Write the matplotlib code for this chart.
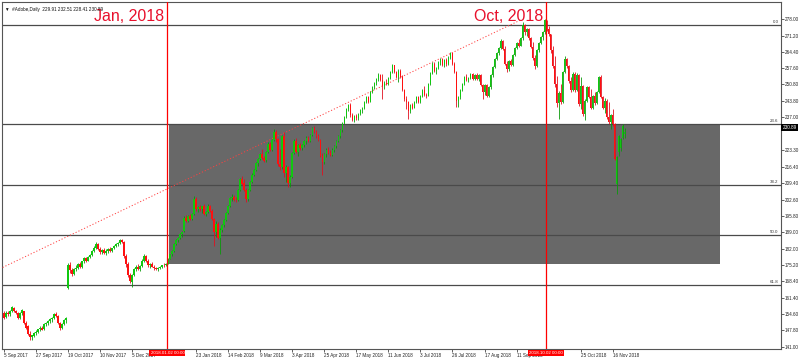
import numpy as np
import matplotlib
matplotlib.use("Agg")
import matplotlib.pyplot as plt
from matplotlib.patches import Rectangle
from matplotlib import transforms

plt.rcParams['font.family'] = ['Liberation Sans Narrow', 'Liberation Sans', 'DejaVu Sans']

# ---------------- data ----------------
symbol_caption = "\u25BC  #Adobe,Daily  229.91 232.51 228.41 230.89"
first_bar_date = "2017-09-05"
market_holidays = ["2017-11-23", "2017-12-25", "2018-01-01", "2018-01-15", "2018-02-19",
                   "2018-03-30", "2018-05-28", "2018-07-04", "2018-09-03", "2018-11-22",
                   "2018-12-25", "2019-01-01", "2019-01-21"]

opens = [
    155.3, 153.5, 155.0, 154.5, 155.8, 157.2, 156.0, 155.0, 153.2, 155.0,
    155.8, 151.0, 149.5, 146.5, 145.0, 145.6, 146.8, 147.2, 148.3, 149.0,
    148.5, 150.5, 150.8, 151.6, 152.5, 153.2, 154.5, 154.0, 151.0, 149.0,
    150.5, 152.0, 165.5, 175.0, 173.0, 171.5, 173.5, 174.0, 175.5, 174.5,
    176.8, 178.0, 177.0, 178.5, 179.5, 181.0, 182.5, 184.0, 182.0, 180.5,
    181.5, 180.3, 181.0, 182.0, 181.0, 182.2, 183.2, 184.0, 184.6, 185.6,
    185.0, 179.0, 175.5, 171.0, 168.0, 171.0, 173.5, 174.5, 173.5, 174.8,
    177.0, 179.0, 177.0, 175.0, 175.5, 174.5, 173.8, 173.4, 174.0, 174.4,
    175.2, 175.0, 175.8, 177.8, 179.6, 181.0, 184.0, 185.5, 186.5, 188.0,
    189.5, 195.0, 193.5, 195.5, 194.6, 196.5, 203.0, 198.5, 199.5, 198.5,
    199.8, 196.5, 197.5, 200.0, 198.0, 194.5, 189.0, 192.5, 186.5, 190.0,
    192.0, 194.0, 197.0, 200.0, 203.3, 203.8, 202.5, 202.2, 206.5, 211.0,
    209.5, 206.5, 203.0, 206.5, 210.0, 213.0, 215.0, 218.0, 219.5, 221.5,
    220.0, 219.0, 222.5, 226.0, 223.5, 227.5, 231.0, 228.0, 217.5, 216.0,
    229.0, 213.5, 216.0, 209.5, 212.0, 222.0, 227.0, 222.5, 225.5, 224.0,
    225.5, 227.0, 228.5, 227.0, 229.5, 232.5, 231.0, 229.0, 227.5, 221.0,
    218.3, 221.5, 223.5, 222.0, 221.2, 223.5, 225.0, 227.0, 229.0, 231.5,
    234.5, 237.0, 240.5, 242.0, 238.0, 236.0, 237.5, 236.5, 238.5, 240.0,
    241.0, 243.5, 245.5, 243.5, 247.5, 249.8, 251.5, 253.0, 254.5, 252.5,
    250.0, 251.5, 251.0, 253.5, 256.0, 258.8, 256.0, 254.0, 256.5, 254.0,
    248.5, 244.5, 243.5, 239.8, 242.0, 241.0, 243.5, 245.5, 243.5, 246.0,
    248.5, 246.5, 246.0, 251.0, 255.5, 259.5, 256.5, 257.5, 260.0, 261.5,
    259.0, 261.0, 259.5, 262.0, 263.8, 259.5, 256.0, 244.0, 245.5, 248.5,
    251.0, 254.0, 252.5, 253.5, 255.0, 253.0, 254.5, 253.0, 254.5, 250.5,
    247.5, 250.5, 246.0, 249.5, 254.5, 258.0, 261.5, 264.0, 266.0, 269.0,
    265.5, 259.5, 257.0, 260.5, 259.0, 263.0, 266.0, 268.0, 267.0, 270.0,
    275.5, 272.5, 274.0, 270.0, 266.5, 262.0, 258.5, 265.0, 268.0, 270.5,
    272.5, 277.5, 274.0, 271.8, 265.0, 258.5, 251.0, 243.0, 247.0, 243.5,
    256.0, 261.5, 258.5, 252.0, 248.5, 255.0, 248.5, 254.5, 242.5, 250.0,
    238.5, 244.0, 249.5, 245.6, 241.0, 246.0, 243.0, 247.5, 254.0, 245.6,
    241.0, 244.0, 237.0, 235.0, 238.0, 234.0, 209.0, 222.5, 224.0, 228.5,
    229.91]

highs = [
    156.0, 155.8, 156.0, 156.2, 158.0, 157.6, 156.5, 155.5, 155.5, 156.6,
    156.0, 151.8, 150.2, 147.5, 146.0, 147.0, 148.0, 148.6, 149.5, 149.6,
    150.8, 151.3, 152.0, 153.0, 153.5, 155.0, 155.5, 154.4, 151.5, 151.0,
    152.5, 153.5, 176.0, 176.5, 174.0, 173.8, 175.0, 176.0, 176.5, 177.0,
    178.5, 178.6, 178.8, 180.0, 181.5, 183.0, 184.7, 184.5, 182.8, 182.0,
    182.5, 181.8, 182.3, 182.6, 182.5, 183.5, 184.5, 185.0, 186.0, 186.2,
    185.3, 180.0, 176.5, 172.0, 171.5, 174.0, 175.0, 175.5, 175.0, 177.5,
    179.6, 179.5, 177.5, 176.0, 176.3, 175.0, 174.5, 174.2, 174.8, 175.4,
    176.0, 176.2, 178.0, 180.0, 181.5, 184.6, 186.0, 187.0, 188.5, 189.5,
    195.5, 196.0, 196.0, 196.4, 196.8, 204.0, 203.5, 200.0, 200.5, 200.0,
    200.8, 198.0, 200.6, 200.5, 198.5, 195.0, 193.5, 193.0, 190.5, 192.5,
    194.5, 197.5, 200.5, 203.8, 204.8, 204.5, 203.5, 207.0, 211.5, 212.3,
    211.0, 207.5, 207.0, 210.5, 213.5, 215.5, 218.5, 220.0, 222.0, 223.6,
    221.0, 223.0, 226.6, 226.5, 228.0, 232.0, 231.5, 228.5, 223.6, 229.5,
    230.8, 217.0, 216.5, 213.0, 222.5, 228.0, 228.2, 226.0, 226.2, 226.0,
    227.5, 229.0, 229.0, 230.0, 233.0, 233.3, 231.5, 230.0, 228.0, 222.0,
    222.0, 224.0, 224.5, 223.5, 224.0, 225.5, 227.5, 229.5, 232.0, 235.0,
    237.5, 241.0, 242.5, 243.0, 239.0, 238.0, 238.5, 238.8, 240.5, 241.5,
    244.0, 246.0, 246.0, 247.8, 250.2, 251.8, 253.5, 255.5, 255.0, 255.0,
    252.0, 253.0, 254.0, 256.5, 259.3, 259.0, 256.5, 257.2, 257.0, 254.5,
    249.0, 246.0, 244.0, 242.5, 242.8, 244.0, 246.0, 246.0, 246.5, 249.0,
    250.3, 247.0, 251.5, 256.0, 260.1, 260.0, 258.0, 260.5, 262.0, 262.0,
    261.5, 262.0, 262.5, 264.3, 264.0, 260.0, 256.5, 246.0, 249.0, 251.5,
    254.3, 255.0, 254.0, 255.5, 255.5, 255.0, 255.5, 255.0, 255.2, 251.0,
    251.0, 251.0, 250.0, 255.0, 258.5, 262.0, 264.5, 266.5, 269.8, 269.5,
    267.0, 260.5, 261.0, 261.5, 263.5, 266.5, 268.6, 269.8, 270.5, 277.0,
    276.0, 274.5, 274.5, 270.5, 268.5, 263.0, 265.5, 268.5, 271.0, 273.0,
    278.2, 277.8, 275.0, 272.0, 266.8, 262.7, 254.3, 248.0, 251.0, 256.5,
    262.7, 262.0, 259.0, 254.0, 256.0, 256.0, 255.5, 255.0, 254.0, 250.5,
    244.5, 250.0, 250.0, 249.0, 246.5, 247.5, 248.0, 254.3, 254.5, 246.0,
    245.0, 244.5, 243.3, 238.5, 240.4, 234.5, 221.0, 229.5, 228.5, 234.0,
    232.51]

lows = [
    152.8, 153.0, 154.0, 154.0, 155.5, 155.5, 154.5, 152.5, 152.8, 154.3,
    150.5, 148.5, 146.0, 144.0, 143.8, 145.0, 146.0, 146.6, 147.5, 147.8,
    148.2, 149.5, 150.0, 151.0, 151.5, 152.8, 153.5, 150.5, 148.0, 148.5,
    150.0, 151.0, 165.0, 172.0, 170.5, 171.0, 172.5, 173.5, 174.0, 174.0,
    176.0, 176.5, 176.8, 178.0, 179.0, 180.5, 182.0, 181.5, 180.0, 179.8,
    180.0, 179.5, 180.2, 180.5, 180.6, 181.8, 182.8, 183.2, 184.0, 184.5,
    178.0, 174.5, 170.0, 167.5, 165.8, 170.5, 172.5, 173.0, 172.8, 174.5,
    176.5, 176.5, 174.5, 174.0, 174.2, 173.2, 173.0, 172.8, 173.5, 174.0,
    174.5, 174.6, 175.5, 177.5, 179.0, 180.8, 183.5, 184.8, 186.0, 187.0,
    189.0, 193.0, 193.2, 194.2, 194.0, 196.2, 197.7, 197.5, 198.0, 197.0,
    196.0, 195.5, 197.0, 197.5, 194.0, 183.0, 187.0, 186.0, 179.6, 189.0,
    191.0, 193.5, 196.5, 199.5, 202.0, 201.9, 201.5, 202.0, 206.0, 208.5,
    206.0, 201.5, 202.0, 206.0, 209.5, 212.5, 214.5, 216.5, 219.0, 219.5,
    218.3, 218.5, 222.0, 223.0, 223.0, 227.0, 226.5, 216.5, 215.0, 215.5,
    212.0, 210.0, 208.0, 208.0, 211.8, 221.5, 222.0, 221.0, 223.5, 223.5,
    224.5, 226.0, 226.5, 226.5, 229.0, 230.5, 228.5, 227.0, 220.5, 213.0,
    217.5, 220.5, 221.5, 220.7, 220.8, 222.5, 224.0, 226.5, 228.5, 231.0,
    234.0, 236.5, 239.5, 237.0, 235.5, 235.0, 236.0, 236.0, 238.0, 239.0,
    240.5, 243.0, 243.0, 243.3, 247.0, 249.0, 250.5, 252.0, 252.0, 244.6,
    249.0, 250.5, 250.5, 253.0, 255.5, 255.5, 253.5, 251.7, 253.5, 248.0,
    243.8, 240.4, 236.2, 239.0, 240.5, 240.8, 243.0, 243.0, 243.0, 245.5,
    246.0, 245.0, 245.8, 250.5, 255.0, 256.0, 255.0, 257.0, 259.0, 258.5,
    258.0, 258.5, 259.0, 261.5, 259.0, 255.5, 241.3, 241.5, 244.5, 248.0,
    250.5, 252.0, 251.7, 253.0, 252.5, 252.5, 252.5, 252.0, 250.0, 244.6,
    246.5, 245.5, 245.5, 249.0, 254.0, 257.5, 261.0, 263.0, 265.5, 265.0,
    259.0, 256.0, 256.5, 258.5, 258.5, 262.5, 265.5, 266.5, 266.8, 269.5,
    271.5, 271.0, 269.5, 266.0, 261.0, 257.0, 258.0, 264.5, 267.5, 269.5,
    272.0, 273.0, 271.0, 264.0, 257.5, 249.6, 241.5, 236.2, 242.5, 243.0,
    255.5, 257.5, 251.5, 247.5, 248.0, 247.5, 248.0, 241.7, 240.4, 237.6,
    236.0, 243.5, 245.0, 240.4, 240.5, 242.0, 242.5, 247.0, 245.0, 240.4,
    239.0, 236.2, 234.0, 232.0, 233.5, 219.0, 205.0, 221.0, 223.0, 228.0,
    228.41]

closes = [
    153.2, 155.2, 154.5, 155.8, 157.5, 156.0, 155.0, 153.0, 155.0, 156.2,
    151.0, 149.0, 146.5, 145.0, 145.8, 146.8, 147.2, 148.3, 149.0, 148.2,
    150.5, 151.0, 151.6, 152.5, 153.2, 154.6, 154.0, 151.0, 148.8, 150.5,
    152.0, 153.0, 175.0, 173.0, 171.5, 173.5, 174.0, 175.5, 174.5, 176.8,
    178.0, 177.0, 178.5, 179.5, 181.0, 182.5, 184.0, 182.0, 180.5, 181.5,
    180.3, 181.0, 182.0, 181.0, 182.2, 183.2, 184.0, 184.6, 185.6, 185.0,
    179.0, 175.5, 171.0, 168.5, 171.0, 173.5, 174.5, 173.5, 174.8, 177.0,
    179.0, 177.0, 175.0, 175.5, 174.5, 173.8, 173.4, 174.0, 174.4, 175.2,
    175.0, 175.6, 177.8, 179.6, 181.0, 184.0, 185.5, 186.5, 188.0, 189.0,
    195.0, 193.5, 195.5, 194.6, 196.5, 203.0, 198.5, 199.5, 198.5, 199.8,
    196.5, 197.5, 200.0, 198.0, 194.5, 189.0, 192.5, 186.5, 190.0, 192.0,
    194.0, 197.0, 200.0, 203.3, 203.8, 202.5, 202.2, 206.5, 211.0, 209.0,
    206.5, 203.0, 206.5, 210.0, 213.0, 215.0, 218.0, 219.5, 221.5, 220.0,
    218.8, 222.5, 226.0, 223.5, 227.5, 231.0, 228.0, 217.5, 216.0, 229.0,
    213.5, 216.0, 209.5, 212.0, 222.0, 227.0, 222.5, 225.5, 224.0, 225.5,
    227.0, 228.5, 227.0, 229.5, 232.5, 231.0, 229.0, 227.5, 221.0, 218.3,
    221.5, 223.5, 222.0, 221.2, 223.5, 225.0, 227.0, 229.0, 231.5, 234.5,
    237.0, 240.5, 242.0, 238.0, 236.0, 237.5, 236.5, 238.5, 240.0, 241.0,
    243.5, 245.5, 243.5, 247.5, 249.8, 251.5, 253.0, 254.5, 252.5, 250.0,
    251.5, 251.0, 253.5, 256.0, 258.8, 256.0, 254.0, 256.5, 254.0, 248.5,
    244.5, 243.5, 239.8, 242.0, 241.0, 243.5, 245.5, 243.5, 246.0, 248.5,
    246.5, 246.0, 251.0, 255.5, 259.5, 256.5, 257.5, 260.0, 261.5, 259.0,
    261.0, 259.5, 262.0, 263.8, 259.5, 256.0, 244.0, 245.5, 248.5, 251.0,
    254.0, 252.5, 253.5, 255.0, 253.0, 254.5, 253.0, 254.5, 250.5, 247.5,
    250.5, 246.0, 249.5, 254.5, 258.0, 261.5, 264.0, 266.0, 269.0, 265.5,
    259.5, 257.0, 260.5, 259.0, 263.0, 266.0, 268.0, 267.0, 270.0, 275.5,
    272.5, 274.0, 270.0, 266.5, 262.0, 258.5, 265.0, 268.0, 270.5, 272.5,
    277.5, 274.0, 271.8, 265.0, 258.5, 251.0, 243.0, 247.0, 243.5, 256.0,
    261.5, 258.5, 252.0, 248.5, 255.0, 248.5, 254.5, 242.5, 250.0, 238.5,
    244.0, 249.5, 245.6, 241.0, 246.0, 243.0, 247.5, 254.0, 245.6, 241.0,
    244.0, 237.0, 235.0, 238.0, 234.0, 219.4, 220.3, 229.0, 227.8, 233.5,
    230.89]

x_tick_dates = ["2017-09-05", "2017-09-27", "2017-10-19", "2017-11-10", "2017-12-05",
                "2018-01-23", "2018-02-14", "2018-03-09", "2018-04-03",
                "2018-04-25", "2018-05-17", "2018-06-11", "2018-07-03", "2018-07-26",
                "2018-08-17", "2018-09-11", "2018-10-25", "2018-11-16"]
x_tick_labels = ["5 Sep 2017", "27 Sep 2017", "19 Oct 2017", "10 Nov 2017", "5 Dec 2017",
                 "23 Jan 2018", "14 Feb 2018", "9 Mar 2018", "3 Apr 2018",
                 "25 Apr 2018", "17 May 2018", "11 Jun 2018", "3 Jul 2018", "26 Jul 2018",
                 "17 Aug 2018", "11 Sep 2018", "25 Oct 2018", "16 Nov 2018"]
price_ticks = [278.00, 271.20, 264.40, 257.60, 250.80, 243.80, 237.00, 223.30, 216.40,
               209.40, 202.60, 195.80, 189.00, 182.00, 175.20, 168.40, 161.40, 154.60,
               147.80, 141.00]
last_price = 230.89

marker_dates = ["2018-01-02", "2018-10-02"]
marker_tags = ["2018.01.02 00:00", "2018.10.02 00:00"]
marker_titles = ["Jan, 2018", "Oct, 2018"]

fib_high = 275.8
fib_low = 99.6
fib_levels = [0.0, 23.6, 38.2, 50.0, 61.8]

zone_dates = ["2018-01-03", "2019-02-06"]
zone_prices = [175.6, 234.2]

trend_dates = ["2017-09-01", "2018-09-13"]
trend_prices = [173.6, 277.7]

# ---------------- helpers ----------------
assert len(opens) == len(highs) == len(lows) == len(closes)

def bar_of(d):
    return int(np.busday_count(first_bar_date, d, holidays=market_holidays))

W, H = 806, 363
fig = plt.figure(figsize=(W / 100, H / 100), dpi=100)
fig.patch.set_facecolor("white")
ax_top_px, ax_bot_px, ax_left_px, ax_right_px = 1.5, 349.0, 2.0, 781.0
ax = fig.add_axes([ax_left_px / W, 1 - ax_bot_px / H,
                   (ax_right_px - ax_left_px) / W, (ax_bot_px - ax_top_px) / H])
ax.set_facecolor("white")

px_per_bar = 2.003
bar0_px = 3.8
ax.set_xlim((ax_left_px - bar0_px) / px_per_bar, (ax_right_px - bar0_px) / px_per_bar)
px_per_unit = 2.39
y278_px = 19.3
ax.set_ylim(278 - (ax_bot_px - y278_px) / px_per_unit, 278 + (y278_px - ax_top_px) / px_per_unit)

o = np.array(opens); h = np.array(highs); l = np.array(lows); c = np.array(closes)
xs = np.arange(len(c))
up = c >= o

# zone rectangle
z0, z1 = bar_of(zone_dates[0]), bar_of(zone_dates[1])
ax.add_patch(Rectangle((z0 - 0.3, zone_prices[0]), z1 - z0, zone_prices[1] - zone_prices[0],
                       facecolor="#686868", edgecolor="none", zorder=1))

# fibonacci levels
ytr = transforms.blended_transform_factory(ax.transAxes, ax.transData)
for lev in fib_levels:
    p = fib_high - (fib_high - fib_low) * lev / 100.0
    ax.axhline(p, color="#4a4a4a", lw=0.9, zorder=2)
    ax.text(0.997, p + 0.4, f"{lev:.1f}", transform=ytr,
            ha="right", va="bottom", fontsize=3.2, color="#333333", zorder=6)

# trendline
tb = [bar_of(d) for d in trend_dates]
ax.plot(tb, trend_prices, color="#ff4040", lw=0.7, linestyle=(0, (1.2, 2.0)), zorder=3)

# candles
wick_up, wick_dn = "#0a9a0a", "#e01020"
body_up, body_dn = "#10c810", "#ff1010"
ax.vlines(xs[up], l[up], h[up], color=wick_up, lw=0.6, zorder=4)
ax.vlines(xs[~up], l[~up], h[~up], color=wick_dn, lw=0.6, zorder=4)
body_lo = np.minimum(o, c)
body_h = np.maximum(np.abs(c - o), 0.35)
ax.bar(xs[up], body_h[up], bottom=body_lo[up], width=0.75, color=body_up, linewidth=0, zorder=5)
ax.bar(xs[~up], body_h[~up], bottom=body_lo[~up], width=0.75, color=body_dn, linewidth=0, zorder=5)

# vertical markers
bt = transforms.blended_transform_factory(ax.transData, ax.transAxes)
for d, tag, title in zip(marker_dates, marker_tags, marker_titles):
    b = bar_of(d)
    ax.axvline(b - 0.3, color="#ff0000", lw=0.9, zorder=7)
    ax.text(b - 1.8, 0.945, title, transform=bt, ha="right", va="baseline",
            fontsize=11.5, color="#e8102c", family=["Liberation Sans", "DejaVu Sans"], zorder=8)
    ax.text(b - 0.3, -0.006, tag, transform=bt, ha="center", va="top", fontsize=3.2, color="white",
            clip_on=False, zorder=10,
            bbox=dict(boxstyle="square,pad=0.25", facecolor="#ff0000", edgecolor="none"))

# axes styling
for s in ax.spines.values():
    s.set_color("#555555")
    s.set_linewidth(0.8)
ax.yaxis.tick_right()
ax.set_yticks(price_ticks)
ax.set_yticklabels([f"{v:.2f}" for v in price_ticks])
ax.tick_params(axis="y", length=2, width=0.5, pad=1, labelsize=3.3, colors="#222222")
ax.set_xticks([bar_of(d) for d in x_tick_dates])
ax.set_xticklabels(x_tick_labels, ha="left")
ax.tick_params(axis="x", length=2, width=0.5, pad=1, labelsize=3.3, colors="#222222")

# last price tag (drawn a few pixels higher, as in the terminal)
tag_tr = transforms.offset_copy(ytr, fig=fig, x=0, y=4.5, units="dots")
ax.text(1.002, last_price, f"{last_price:.2f}", transform=tag_tr,
        ha="left", va="center", fontsize=3.3, color="white", clip_on=False, zorder=10,
        bbox=dict(boxstyle="square,pad=0.25", facecolor="black", edgecolor="none"))

# caption
ax.text(0.004, 0.985, symbol_caption, transform=ax.transAxes, ha="left", va="top",
        fontsize=3.3, color="#111111", family=["Liberation Sans", "DejaVu Sans"], zorder=9)

fig.savefig("out.png", dpi=100, facecolor="white")
